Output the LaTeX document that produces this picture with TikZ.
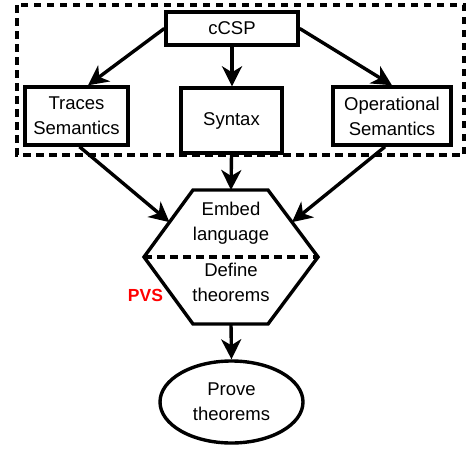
\documentclass[tikz,border=0pt]{standalone}
\usepackage{fontspec}
\setmainfont{Liberation Sans}
\usetikzlibrary{arrows.meta,calc,shapes.geometric}
\begin{document}
\begin{tikzpicture}[x=1pt,y=-1pt,
  every node/.style={font=\fontsize{18.5}{25}\selectfont, align=center, inner sep=0pt},
  boxnode/.style={draw, line width=3.4pt, rectangle},
  arr/.style={line width=3.4pt, -{Stealth[length=20pt,width=20pt,inset=6pt]}},
  edge2/.style={line width=3.4pt},
  dashbox/.style={line width=3.4pt, dash pattern=on 7.5pt off 5.5pt}]
\useasboundingbox (0,0) rectangle (466,450);
% dashed group
\draw[dashbox] (17,5) rectangle (464,155);
% top row
\node[boxnode, minimum width=132pt, minimum height=33pt] (ccsp) at (232,28.5) {cCSP};
\node[boxnode, minimum width=103pt, minimum height=58pt] (traces) at (76.5,116) {Traces\\Semantics};
\node[boxnode, minimum width=101pt, minimum height=65pt] (syntax) at (231.5,120.5) {Syntax};
\node[boxnode, minimum width=118pt, minimum height=58pt] (oper) at (392,116) {Operational\\Semantics};
% hexagon
\coordinate (h1) at (193,190);
\coordinate (h2) at (268,190);
\coordinate (h3) at (318,257);
\coordinate (h4) at (268,324);
\coordinate (h5) at (193,324);
\coordinate (h6) at (144,257);
\draw[edge2, line join=miter] (h1) -- (h2) -- (h3) -- (h4) -- (h5) -- (h6) -- cycle;
\draw[dashbox] (h6) -- (h3);
\node (embed) at (231,223.5) {Embed\\language};
\node (define) at (231,282.5) {Define\\theorems};
\node[text=red, font=\fontsize{17.5}{21}\selectfont\bfseries] (pvs) at (145.5,295) {PVS};
\coordinate (hexN) at (231,190);
\coordinate (hexS) at (231,324);
\coordinate (hexL) at ($(h1)!0.48!(h6)$);
\coordinate (hexR) at ($(h2)!0.48!(h3)$);
% ellipse
\node[draw, ellipse, line width=3.4pt, minimum width=143pt, minimum height=82pt] (prove) at (231.5,402) {Prove\\theorems};
% connectors
\draw[arr] (ccsp.west) -- ($(traces.north)+(11.5,0)$);
\draw[arr] (ccsp.south) -- (ccsp.south |- syntax.north);
\draw[arr] (ccsp.east) -- (oper.north);
\draw[arr] ($(traces.south)+(3,0)$) -- (hexL);
\draw[arr] (syntax.south) -- (hexN);
\draw[arr] ($(oper.south)+(-7,0)$) -- (hexR);
\draw[arr] (hexS) -- (prove.north);
\end{tikzpicture}
\end{document}
